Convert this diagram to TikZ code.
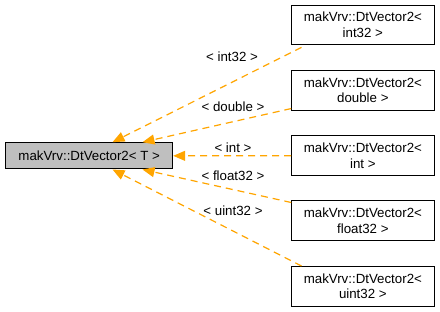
\documentclass[tikz,border=0pt]{standalone}
\usepackage{fontspec}
\setmainfont{Liberation Sans}
\usetikzlibrary{arrows.meta,calc}
\definecolor{edgeor}{HTML}{FFA500}
\definecolor{basegray}{HTML}{BFBFBF}
\begin{document}
\begin{tikzpicture}[
  every node/.style={font=\fontsize{13.3}{15.5}\selectfont, inner sep=0pt},
  cls/.style={draw=black, line width=1pt, minimum width=142.3pt, minimum height=39.7pt, align=center, fill=white},
  basecls/.style={draw=black, line width=1pt, minimum width=167pt, minimum height=26.3pt, fill=basegray},
  inh/.style={draw=edgeor, line width=1.2pt, dash pattern=on 7pt off 5pt, -{Triangle[length=12pt,width=10pt,fill=edgeor]}},
  lbl/.style={text=black}
]
\useasboundingbox (0pt,0pt) rectangle (440pt,-312pt);
\node[basecls] (base) at (89.2pt,-155.85pt) {makVrv::DtVector2< T >};
\node[cls] (c1) at (362.85pt,-25pt) {makVrv::DtVector2<\\int32 >};
\node[cls] (c2) at (362.85pt,-90.5pt) {makVrv::DtVector2<\\double >};
\node[cls] (c3) at (362.85pt,-155.7pt) {makVrv::DtVector2<\\int >};
\node[cls] (c4) at (362.85pt,-220.85pt) {makVrv::DtVector2<\\float32 >};
\node[cls] (c5) at (362.85pt,-286.35pt) {makVrv::DtVector2<\\uint32 >};
\draw[inh] ($(c1.south west)+(10.3pt,-2pt)$) -- ($(base.north west)+(107.3pt,0pt)$);
\draw[inh] ($(c2.south west)+(0pt,2.3pt)$) -- ($(base.north west)+(137.3pt,0pt)$);
\draw[inh] (c3.west) -- (base.east);
\draw[inh] ($(c4.north west)+(0pt,-2pt)$) -- ($(base.south west)+(137.3pt,0pt)$);
\draw[inh] ($(c5.north west)+(10.3pt,0pt)$) -- ($(base.south west)+(107.3pt,0pt)$);
\node[lbl] (l1) at (232pt,-57pt) {< int32 >};
\node[lbl] (l2) at (233pt,-106.5pt) {< double >};
\node[lbl] (l3) at (233pt,-148pt) {< int >};
\node[lbl] (l4) at (233pt,-176pt) {< float32 >};
\node[lbl] (l5) at (233pt,-211pt) {< uint32 >};
\end{tikzpicture}
\end{document}
